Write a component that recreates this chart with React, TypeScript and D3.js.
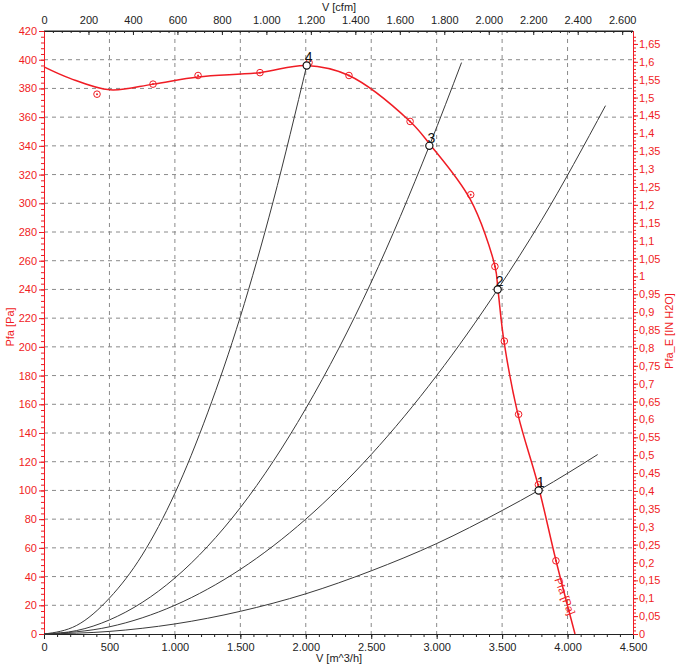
import React, { useEffect, useRef } from "react";
import * as d3 from "d3";

// fan curve Pfa [Pa] over V [m^3/h]
const fanFlow = [0, 199, 504, 833, 1177, 1650, 2002, 2330, 2797, 2949, 3255, 3446, 3468, 3514, 3621, 3774, 3912, 4057];
const fanPressure = [395, 387, 379, 383, 388, 391, 396, 389, 357, 341, 303, 256, 240, 204, 153, 104, 51, 0];

// measured points (red markers)
const measFlow = [405, 833, 1177, 1650, 2025, 2330, 2797, 3260, 3445, 3517, 3626, 3777, 3911];
const measPressure = [376, 383, 389, 391, 398, 389, 357, 306, 256, 204, 153, 104, 51];

// operating points
const opLabels = ["1", "2", "3", "4"];
const opFlow = [3779, 3466, 2944, 2007];
const opPressure = [100, 240, 340, 396];

// system curves (one per operating point)
const sys1Flow = [0, 500, 1000, 1500, 2000, 2500, 3000, 3500, 3779, 4230];
const sys1Pressure = [0, 1.8, 7, 15.8, 28, 44, 63, 86, 100, 125];
const sys2Flow = [0, 500, 1000, 1500, 2000, 2500, 3000, 3466, 3800, 4290];
const sys2Pressure = [0, 5, 20, 45, 80, 125, 180, 240, 288, 368];
const sys3Flow = [0, 250, 500, 1000, 1500, 2000, 2500, 2944, 3190];
const sys3Pressure = [0, 2.4, 9.8, 39, 88, 157, 245, 340, 398];
const sys4Flow = [0, 250, 500, 750, 1000, 1250, 1500, 1750, 2010];
const sys4Pressure = [0, 6, 25, 55, 98, 154, 221, 301, 397];

const sysFlows = [sys1Flow, sys2Flow, sys3Flow, sys4Flow];
const sysPressures = [sys1Pressure, sys2Pressure, sys3Pressure, sys4Pressure];

const RED = "#f01c24";
const FONT = "Liberation Sans, Arial, sans-serif";

const locale = d3.formatLocale({ decimal: ",", thousands: ".", grouping: [3], currency: ["", ""] });
const fmtThousands = locale.format(",");
const fmtDecimal = locale.format("~r");

const App = () => {
  const ref = useRef(null);
  const width = 680;
  const height = 668;
  const left = 44;
  const right = 633;
  const top = 31;
  const bottom = 634;

  const x = d3.scaleLinear().domain([0, 4500]).range([left, right]);
  const y = d3.scaleLinear().domain([0, 420]).range([bottom, top]);
  const xTop = d3.scaleLinear().domain([0, 4500 * 0.588578]).range([left, right]);
  const yRight = d3.scaleLinear().domain([0, 420 / 249.0889]).range([bottom, top]);

  const fanLine = d3
    .line<number>()
    .x((d, i) => x(fanFlow[i]))
    .y((d) => y(d))
    .curve(d3.curveCatmullRom.alpha(0.5));

  useEffect(() => {
    const g = d3.select(ref.current);
    g.selectAll("*").remove();

    // grid
    const grid = g.append("g").attr("stroke", "#8a8a8a").attr("stroke-dasharray", "4,4");
    d3.range(500, 4500, 500).forEach((v) => {
      grid.append("line").attr("x1", x(v)).attr("x2", x(v)).attr("y1", top).attr("y2", bottom);
    });
    d3.range(20, 420, 20).forEach((v) => {
      grid.append("line").attr("x1", left).attr("x2", right).attr("y1", y(v)).attr("y2", y(v));
    });

    const style = (sel: any, color: string) => {
      sel.select(".domain").attr("stroke", color);
      sel.selectAll(".tick line").attr("stroke", color);
      sel.selectAll(".tick text").attr("fill", color).attr("font-family", FONT).attr("font-size", 11);
    };

    // bottom axis
    const bMinor = g.append("g").attr("transform", `translate(0,${bottom})`)
      .call(d3.axisBottom(x).tickValues(d3.range(0, 4501, 100)).tickSize(3).tickSizeOuter(0).tickFormat(() => ""));
    style(bMinor, "#222");
    const bMajor = g.append("g").attr("transform", `translate(0,${bottom})`)
      .call(d3.axisBottom(x).tickValues(d3.range(0, 4501, 500)).tickSize(5).tickSizeOuter(0).tickPadding(4).tickFormat((d: any) => fmtThousands(d)));
    style(bMajor, "#222");

    // top axis (cfm)
    const tMinor = g.append("g").attr("transform", `translate(0,${top})`)
      .call(d3.axisBottom(xTop).tickValues(d3.range(0, 2648, 40)).tickSize(2).tickSizeOuter(0).tickFormat(() => ""));
    style(tMinor, "#222");
    const tMajor = g.append("g").attr("transform", `translate(0,${top})`)
      .call(d3.axisTop(xTop).tickValues(d3.range(0, 2601, 200)).tickSize(0).tickSizeOuter(0).tickPadding(7).tickFormat((d: any) => fmtThousands(d)));
    style(tMajor, "#222");
    tMajor.selectAll(".tick").append("line").attr("y2", 4).attr("stroke", "#222");

    // left axis (Pa)
    const lMinor = g.append("g").attr("transform", `translate(${left},0)`)
      .call(d3.axisLeft(y).tickValues(d3.range(0, 421, 4)).tickSize(3).tickSizeOuter(0).tickFormat(() => ""));
    style(lMinor, RED);
    const lMajor = g.append("g").attr("transform", `translate(${left},0)`)
      .call(d3.axisLeft(y).tickValues(d3.range(0, 421, 20)).tickSize(5).tickSizeOuter(0).tickPadding(2));
    style(lMajor, RED);

    // right axis (IN H2O)
    const rMinor = g.append("g").attr("transform", `translate(${right},0)`)
      .call(d3.axisRight(yRight).tickValues(d3.range(0, 168).map((i) => i / 100)).tickSize(3).tickSizeOuter(0).tickFormat(() => ""));
    style(rMinor, RED);
    const rMajor = g.append("g").attr("transform", `translate(${right},0)`)
      .call(d3.axisRight(yRight).tickValues(d3.range(0, 34).map((i) => i * 0.05)).tickSize(5).tickSizeOuter(0).tickPadding(1)
        .tickFormat((d: any) => fmtDecimal(+d.toFixed(2))));
    style(rMajor, RED);

    // top line
    g.append("line").attr("x1", left).attr("x2", right).attr("y1", top).attr("y2", top).attr("stroke", "#222");
  }, []);

  return (
    <svg width={width} height={height} style={{ position: "absolute", left: 0, top: 0, background: "#fff" }} fontFamily={FONT}>
      <g ref={ref} />
      {sysFlows.map((flows, k) => (
        <path
          key={k}
          d={d3.line<number>().x((d, i) => x(flows[i])).y((d) => y(d)).curve(d3.curveMonotoneX)(sysPressures[k]) as string}
          fill="none"
          stroke="#3a3a3a"
          strokeWidth={1}
        />
      ))}
      <path d={fanLine(fanPressure) as string} fill="none" stroke={RED} strokeWidth={1.5} />
      {measFlow.map((f, i) => (
        <g key={i} transform={`translate(${x(f)},${y(measPressure[i])})`}>
          <circle r={3.3} fill="none" stroke={RED} strokeWidth={1} />
          <circle r={1} fill={RED} />
        </g>
      ))}
      {opFlow.map((f, i) => (
        <g key={i} transform={`translate(${x(f)},${y(opPressure[i])})`}>
          <circle r={3.6} fill="#fff" stroke="#111" strokeWidth={1.2} />
          <text x={2} y={-3} fontSize={14} textAnchor="middle" fill="#111">{opLabels[i]}</text>
        </g>
      ))}
      <text x={0} y={0} fontSize={11} fill={RED} transform={`translate(${x(3898)},${y(38)}) rotate(69)`}>Pfa [Pa]</text>
      <text x={339} y={11} fontSize={11} textAnchor="middle" fill="#222">V [cfm]</text>
      <text x={339} y={662} fontSize={11} textAnchor="middle" fill="#222">V [m^3/h]</text>
      <text transform="translate(14,327) rotate(-90)" fontSize={11} textAnchor="middle" fill={RED}>Pfa [Pa]</text>
      <text transform="translate(673,331) rotate(-90)" fontSize={11} textAnchor="middle" fill={RED}>Pfa_E [IN H2O]</text>
    </svg>
  );
};

export default App;
